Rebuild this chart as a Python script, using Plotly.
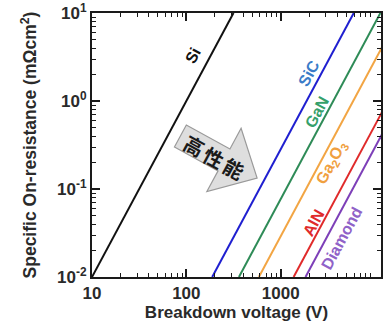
import math
import plotly.graph_objects as go

# ---------------- data ----------------
materials = ["Si", "SiC", "GaN", "Ga2O3", "AlN", "Diamond"]
label_texts = ["Si", "SiC", "GaN", "Ga<sub>2</sub>O<sub>3</sub>", "AlN", "Diamond"]
v_low = [10, 188, 361, 587, 1371, 1833]             # breakdown voltage (V) at R = 0.01
v_high = [316, 5950, 11400, 18560, 43350, 58000]    # breakdown voltage (V) at R = 10
r_ends = [0.01, 10]                                  # specific on-resistance (mOhm cm2)

x_tickvals = [10, 100, 1000]
x_ticktext = ["10", "100", "1000"]
y_tickvals = [0.01, 0.1, 1, 10]
y_ticktext = ["10<sup>-2</sup>", "10<sup>-1</sup>", "10<sup>0</sup>", "10<sup>1</sup>"]
arrow_text = "高性能"

# ---------------- styles ----------------
line_colors = ["#111111", "#1f1fd0", "#2e8b57", "#f2a543", "#e02a2a", "#7d3fb8"]
text_colors = ["#111111", "#3a7cc8", "#35a06a", "#f0a040", "#e02a2a", "#9062c8"]

W, H = 383, 329
L, R, T, B = 92, 383, 13, 277
x_range = [1, 1 + (R - L) / 95.0]
y_range = [-2, 1]

def paper(px, py):
    return (px - L) / (R - L), (B - py) / (B - T)

font_family = "Liberation Sans, Arial, sans-serif"

fig = go.Figure()
for name, v0, v1, c in zip(materials, v_low, v_high, line_colors):
    fig.add_trace(go.Scatter(x=[v0, v1], y=r_ends, mode="lines", name=name,
                             line=dict(color=c, width=2), showlegend=False,
                             hoverinfo="skip"))

# line labels (pixel positions converted to paper)
label_px = [(194, 56), (310, 73), (318, 112), (334, 163), (315, 222), (343, 238)]
ang = -math.degrees(math.atan(2 * ((B - T) / 3) / 95.0))
annotations = []
for txt, (px, py), c in zip(label_texts, label_px, text_colors):
    xp, yp = paper(px, py)
    annotations.append(dict(x=xp, y=yp, xref="paper", yref="paper", text=txt,
                            showarrow=False, textangle=ang,
                            font=dict(family=font_family, size=16, color=c, weight="bold"),
                            xanchor="center", yanchor="middle"))

# block arrow
a_deg = 28.6
a = math.radians(a_deg)
d = (math.cos(a), math.sin(a))
n = (-math.sin(a), math.cos(a))
Tx, Ty = 181, 136
bl, hl, hw, hh = 50, 38, 12.5, 36
def pt(s, t):
    return (Tx + d[0] * s + n[0] * t, Ty + d[1] * s + n[1] * t)
pts = [pt(0, hw), pt(bl, hw), pt(bl, hh), pt(bl + hl, 0), pt(bl, -hh), pt(bl, -hw), pt(0, -hw)]
path = ""
for i, (px, py) in enumerate(pts):
    xp, yp = paper(px, py)
    path += ("M" if i == 0 else "L") + f"{xp:.4f},{yp:.4f} "
path += "Z"
shapes = [dict(type="path", path=path, xref="paper", yref="paper",
               fillcolor="#dedede", line=dict(color="#9a9a9a", width=1.2), layer="below")]

# arrow text: one annotation per character, stepped along the arrow direction
cx, cy, step = 215, 157, 23
for k, ch in enumerate(arrow_text):
    off = (k - 1) * step
    xp, yp = paper(cx + d[0] * off, cy + d[1] * off)
    annotations.append(dict(x=xp, y=yp, xref="paper", yref="paper", text="<b>" + ch + "</b>",
                            showarrow=False, textangle=a_deg,
                            font=dict(family="Noto Sans CJK JP", size=20, color="#1a1a1a"),
                            xanchor="center", yanchor="middle"))

minor_x = [m * 10 ** e for e in (1, 2, 3) for m in range(2, 10)]
minor_y = [m * 10.0 ** e for e in (-2, -1, 0) for m in range(2, 10)]

axis_common = dict(showline=True, linecolor="#1a1a1a", linewidth=2, mirror="ticks",
                   ticks="inside", ticklen=8, tickwidth=1.5, tickcolor="#1a1a1a",
                   showgrid=False, zeroline=False,
                   tickfont=dict(family=font_family, size=17, color="#2a2a2a", weight="bold"))

fig.update_layout(
    width=W, height=H,
    margin=dict(l=L, r=W - R, t=T, b=H - B),
    paper_bgcolor="white", plot_bgcolor="white",
    xaxis=dict(type="log", range=x_range, tickmode="array", tickvals=x_tickvals,
               ticktext=x_ticktext,
               minor=dict(tickmode="array", tickvals=minor_x, ticks="inside", ticklen=4,
                          tickwidth=1.2, tickcolor="#1a1a1a", showgrid=False),
               title=dict(text="Breakdown voltage (V)", standoff=4,
                          font=dict(family=font_family, size=17, color="#2a2a2a", weight="bold")),
               **axis_common),
    yaxis=dict(type="log", range=y_range, tickmode="array", tickvals=y_tickvals,
               ticktext=y_ticktext,
               minor=dict(tickmode="array", tickvals=minor_y, ticks="inside", ticklen=4,
                          tickwidth=1.2, tickcolor="#1a1a1a", showgrid=False),
               title=dict(text="Specific On-resistance (mΩcm<sup>2</sup>)", standoff=16,
                          font=dict(family=font_family, size=17.5, color="#2a2a2a", weight="bold")),
               **axis_common),
    annotations=annotations,
    shapes=shapes,
)

fig.write_html("out.html")
